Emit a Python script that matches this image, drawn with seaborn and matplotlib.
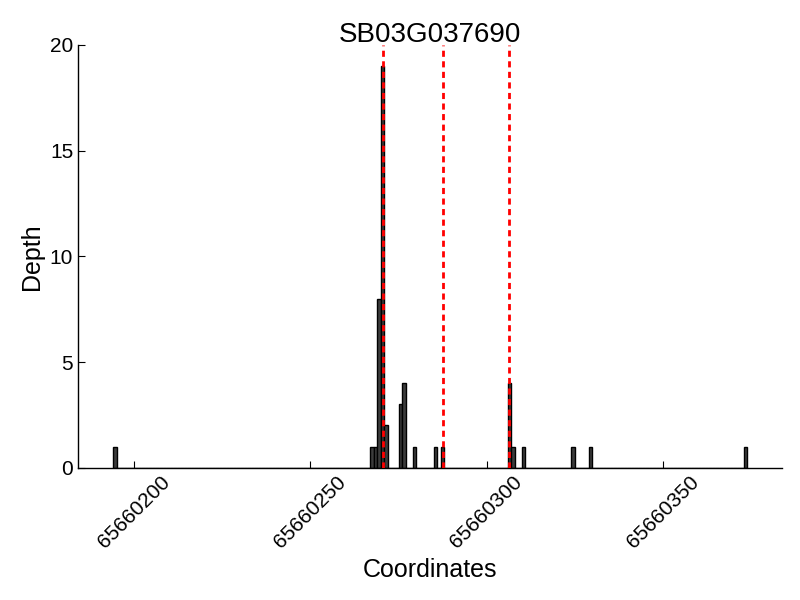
import matplotlib
matplotlib.use('Agg')
import matplotlib.pyplot as plt
import pandas as pd
import seaborn as sns

gene = 'SB03G037690'
positions = [65660194, 65660267, 65660268, 65660269, 65660270, 65660271, 65660275,
             65660276, 65660279, 65660285, 65660287, 65660306, 65660307, 65660310,
             65660324, 65660329, 65660374]
depth = [1, 1, 1, 8, 19, 2, 3, 4, 1, 1, 1, 4, 1, 1, 1, 1, 1]
sites = [65660270, 65660287, 65660306]
x_ticks = [65660200, 65660250, 65660300, 65660350]
y_ticks = [0, 5, 10, 15, 20]

sns.set_style('white', {'text.color': 'black', 'axes.labelcolor': 'black',
                        'xtick.color': 'black', 'ytick.color': 'black',
                        'axes.edgecolor': 'black'})
plt.rcParams['font.family'] = ['Liberation Sans', 'DejaVu Sans']

df = pd.DataFrame({'position': positions, 'depth': depth})

fig, ax = plt.subplots(figsize=(8, 6), dpi=100)
fig.subplots_adjust(left=0.0975, right=0.978, top=0.925, bottom=0.2205)

sns.histplot(data=df, x='position', weights='depth', binwidth=1, ax=ax,
             color='#3c3c3c', edgecolor='black', linewidth=1, alpha=1)
for s in sites:
    # mark the centre of the 1-bp bin
    ax.axvline(s + 0.5, color='red', lw=2, linestyle=(0, (2.2, 1.6)), zorder=5)

ax.set_xlim(min(positions) - 10, max(positions) + 10)
ax.set_ylim(0, 20)
ax.set_yticks(y_ticks)
ax.set_yticklabels([str(t) for t in y_ticks], fontsize=15)
ax.set_xticks(x_ticks)
ax.set_xticklabels([str(t) for t in x_ticks], fontsize=15, rotation=45)
ax.tick_params(bottom=True, left=True, direction='in', length=5, width=0.8,
               color='black', labelcolor='black')
sns.despine(ax=ax)
for sp in ('left', 'bottom'):
    ax.spines[sp].set_color('black')
    ax.spines[sp].set_linewidth(1)

ax.set_title(gene, fontsize=20, pad=2, color='black')
ax.set_xlabel('Coordinates', fontsize=18, color='black')
ax.set_ylabel('Depth', fontsize=18, color='black')

plt.savefig('out.png', dpi=100)
